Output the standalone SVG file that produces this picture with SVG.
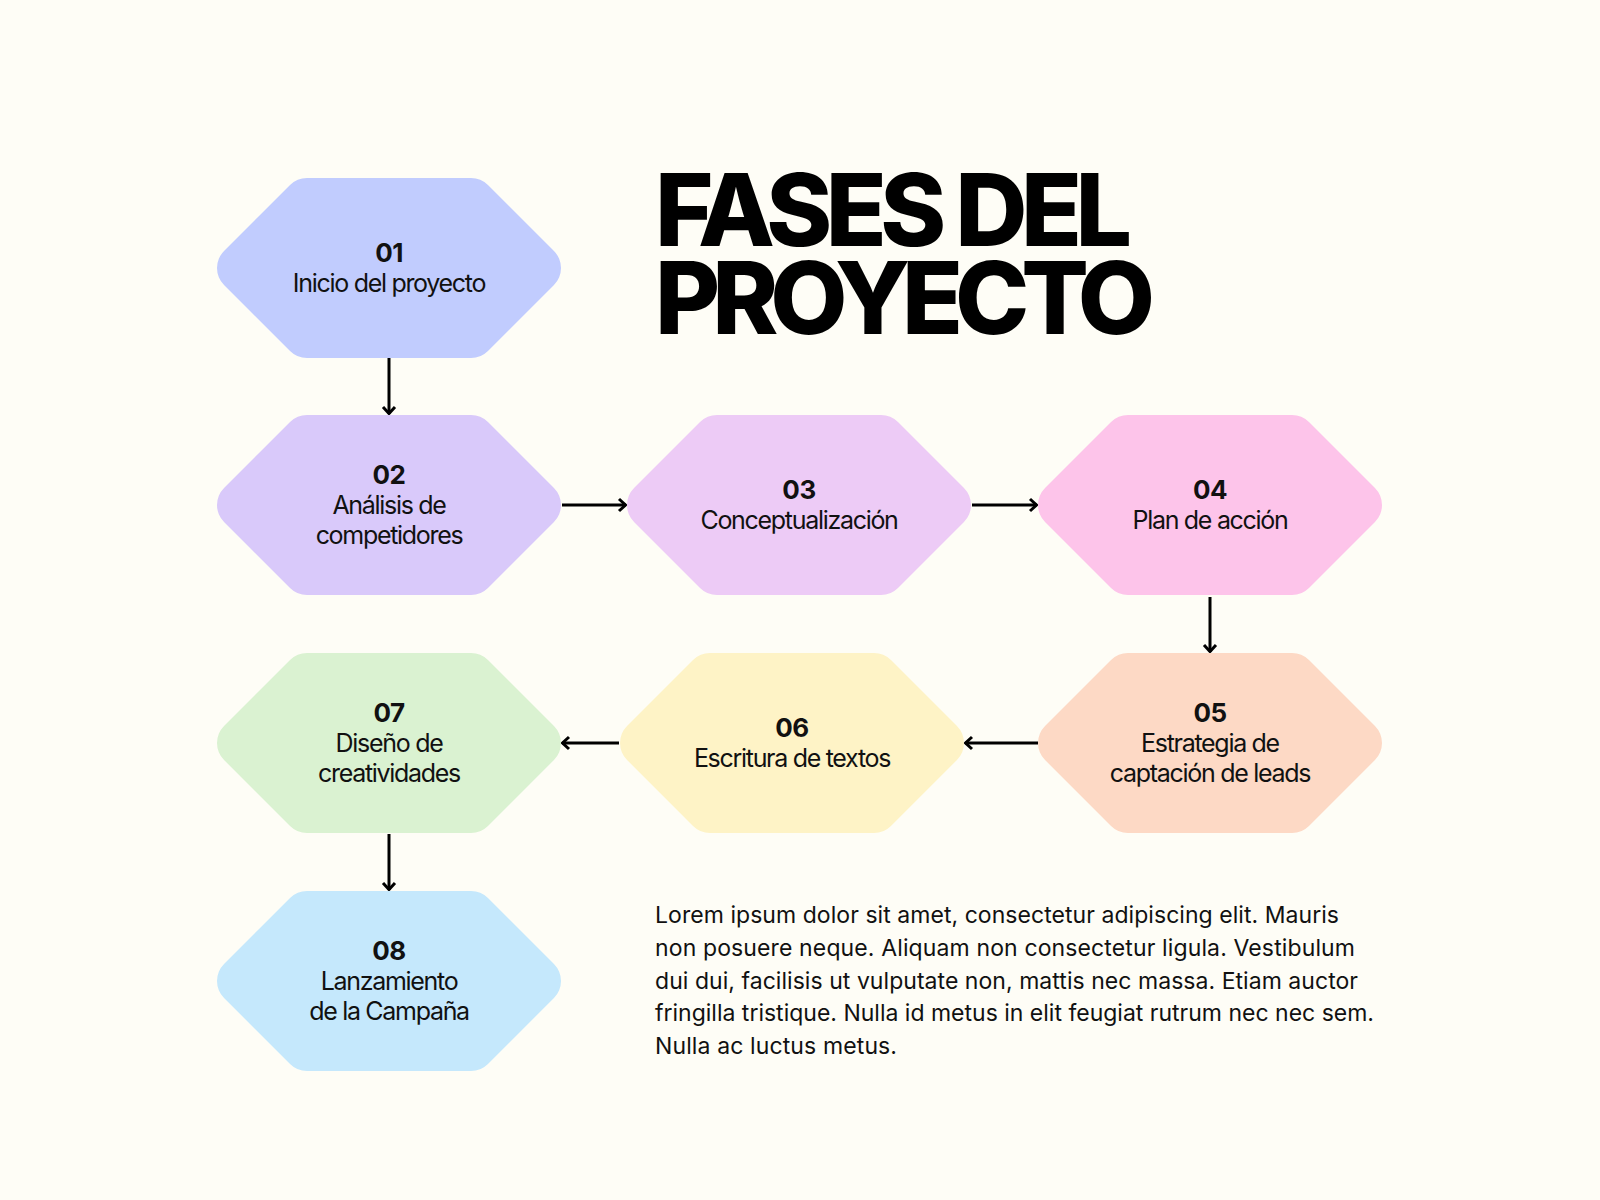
<svg xmlns="http://www.w3.org/2000/svg" width="1600" height="1200" viewBox="0 0 1600 1200">
<style>
.num{font-family:Inter,"Liberation Sans",sans-serif;font-weight:700;font-size:26px;fill:#111;text-anchor:middle;letter-spacing:-0.5px}
.lbl{font-family:Inter,"Liberation Sans",sans-serif;font-weight:400;font-size:25px;fill:#111;text-anchor:middle;letter-spacing:-1.3px}
.title{font-family:Inter,"Liberation Sans",sans-serif;font-weight:800;font-size:100px;fill:#000}
.para{font-family:Inter,"Liberation Sans",sans-serif;font-weight:400;font-size:23px;fill:#111}
.conn line{stroke:#000;stroke-width:3;marker-end:url(#arr)}
</style>
<defs>
<path id="hex" d="M-164.97,-16.97 L-98.97,-82.97 A24,24 0 0 1 -82,-90 L82,-90 A24,24 0 0 1 98.97,-82.97 L164.97,-16.97 A24,24 0 0 1 164.97,16.97 L98.97,82.97 A24,24 0 0 1 82,90 L-82,90 A24,24 0 0 1 -98.97,82.97 L-164.97,16.97 A24,24 0 0 1 -164.97,-16.97 Z"/>
<marker id="arr" markerUnits="userSpaceOnUse" markerWidth="16" markerHeight="16" refX="10" refY="8" orient="auto">
<path d="M3,2 L9.5,8 L3,14" fill="none" stroke="#000" stroke-width="3"/>
</marker>
</defs>
<rect width="1600" height="1200" fill="#FEFDF6"/>

<g id="title">
<text class="title" x="655" y="246" textLength="477" lengthAdjust="spacing">FASES DEL</text>
<text class="title" x="655" y="334" textLength="500" lengthAdjust="spacing">PROYECTO</text>
</g>

<g id="conn" class="conn">
<line x1="389" y1="358" x2="389" y2="414"/>
<line x1="562" y1="505" x2="626" y2="505"/>
<line x1="972" y1="505" x2="1037" y2="505"/>
<line x1="1210" y1="597" x2="1210" y2="652"/>
<line x1="1038" y1="743" x2="965" y2="743"/>
<line x1="619" y1="743" x2="562" y2="743"/>
<line x1="389" y1="834" x2="389" y2="890"/>
</g>

<g id="n01" transform="translate(389,268)">
<use href="#hex" fill="#C1CCFE"/>
<text class="num" y="-6">01</text>
<text class="lbl" y="24">Inicio del proyecto</text>
</g>
<g id="n02" transform="translate(389,505)">
<use href="#hex" fill="#D9C9FA"/>
<text class="num" y="-21">02</text>
<text class="lbl" y="9">Análisis de</text>
<text class="lbl" y="39">competidores</text>
</g>
<g id="n03" transform="translate(799,505)">
<use href="#hex" fill="#EDCBF6"/>
<text class="num" y="-6">03</text>
<text class="lbl" y="24">Conceptualización</text>
</g>
<g id="n04" transform="translate(1210,505)">
<use href="#hex" fill="#FDC4EA"/>
<text class="num" y="-6">04</text>
<text class="lbl" y="24">Plan de acción</text>
</g>
<g id="n05" transform="translate(1210,743)">
<use href="#hex" fill="#FDD9C5"/>
<text class="num" y="-21">05</text>
<text class="lbl" y="9">Estrategia de</text>
<text class="lbl" y="39">captación de leads</text>
</g>
<g id="n06" transform="translate(792,743)">
<use href="#hex" fill="#FEF3C6"/>
<text class="num" y="-6">06</text>
<text class="lbl" y="24">Escritura de textos</text>
</g>
<g id="n07" transform="translate(389,743)">
<use href="#hex" fill="#DAF2D1"/>
<text class="num" y="-21">07</text>
<text class="lbl" y="9">Diseño de</text>
<text class="lbl" y="39">creatividades</text>
</g>
<g id="n08" transform="translate(389,981)">
<use href="#hex" fill="#C5E8FC"/>
<text class="num" y="-21">08</text>
<text class="lbl" y="9">Lanzamiento</text>
<text class="lbl" y="39">de la Campaña</text>
</g>

<g id="paragraph">
<text class="para" x="655" y="923" textLength="684" lengthAdjust="spacing">Lorem ipsum dolor sit amet, consectetur adipiscing elit. Mauris</text>
<text class="para" x="655" y="956" textLength="700" lengthAdjust="spacing">non posuere neque. Aliquam non consectetur ligula. Vestibulum</text>
<text class="para" x="655" y="989" textLength="703" lengthAdjust="spacing">dui dui, facilisis ut vulputate non, mattis nec massa. Etiam auctor</text>
<text class="para" x="655" y="1021" textLength="719" lengthAdjust="spacing">fringilla tristique. Nulla id metus in elit feugiat rutrum nec nec sem.</text>
<text class="para" x="655" y="1054" textLength="242" lengthAdjust="spacing">Nulla ac luctus metus.</text>
</g>
</svg>
